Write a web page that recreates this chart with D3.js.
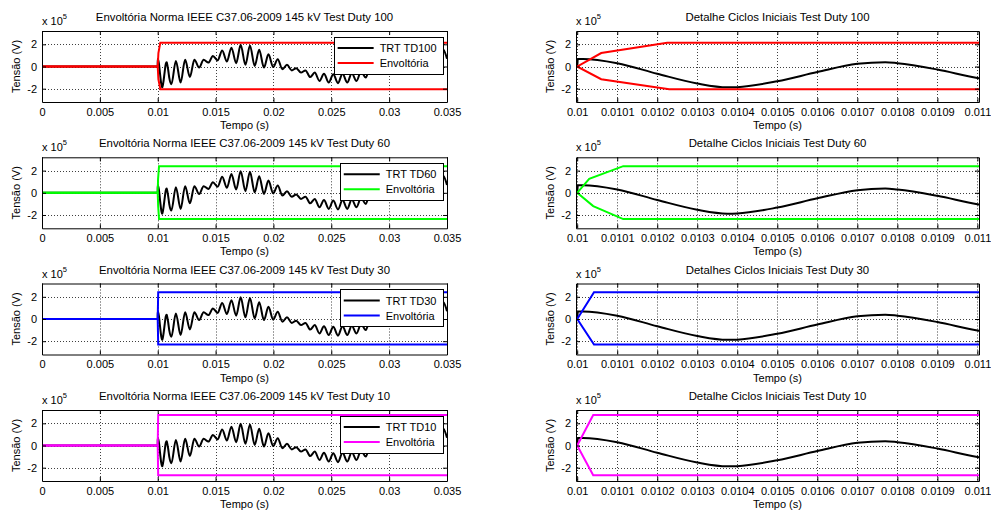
<!DOCTYPE html>
<html>
<head>
<meta charset="utf-8">
<script src="https://cdn.jsdelivr.net/npm/d3@7"></script>
<style>
  body { margin: 0; background: #fff; }
  svg { font-family: "Liberation Sans", Arial, Helvetica, sans-serif; }
</style>
</head>
<body>
<div id="figure"></div>
<script>
// TRT (tempo em s, tensao em unidades de 1e5 V)
var trtTime = [0, 0.01, 0.0100015, 0.010014, 0.0101, 0.0102, 0.0103, 0.010375, 0.0104, 0.0105,
  0.0106, 0.0107, 0.01077, 0.0108, 0.0109, 0.011, 0.01118, 0.01157, 0.01198, 0.01237,
  0.01278, 0.01317, 0.01358, 0.01397, 0.01438, 0.01477, 0.01518, 0.01557, 0.01598, 0.01637,
  0.01678, 0.01717, 0.01758, 0.01797, 0.01838, 0.01877, 0.01918, 0.01957, 0.01998, 0.02037,
  0.02078, 0.02117, 0.02158, 0.02197, 0.02238, 0.02277, 0.02318, 0.02357, 0.02398, 0.02437,
  0.02478, 0.02517, 0.02558, 0.02597, 0.02638, 0.02677, 0.02718, 0.02757, 0.02798, 0.02837,
  0.02878, 0.02917, 0.02958, 0.02997, 0.03038, 0.03077, 0.03118, 0.03157, 0.03198, 0.03237,
  0.03278, 0.03317, 0.03358, 0.03397, 0.03425, 0.03465, 0.035];
var trtValue = [0, 0, 0.68, 0.68, 0.3, -0.65, -1.53, -1.88, -1.86, -1.33,
  -0.5, 0.24, 0.39, 0.3, -0.27, -1.03, -1.6, 0.5, -1.45, 0.6,
  -0.95, 0.6, -0.1, 0.6, 0.35, 0.95, 0.55, 1.45, 0.45, 1.7,
  0.3, 1.95, 0.15, 1.9, 0.05, 1.5, -0.1, 1.1, -0.05, 0.65,
  -0.25, 0.15, -0.35, -0.15, -0.55, -0.35, -0.95, -0.55, -1.3, -0.65,
  -1.45, -0.7, -1.5, -0.65, -1.45, -0.6, -1.3, -0.45, -1.0, 0.0,
  -0.55, 0.35, -0.2, 0.55, 0.05, 0.8, 0.2, 1.1, 0.3, 1.35,
  0.3, 1.6, 0.35, 1.7, 0.4, 1.55, 0.7];

// envoltorias IEEE C37.06-2009, uma linha por test duty
var dutyNames = ["TD100", "TD60", "TD30", "TD10"];
var dutyNumbers = ["100", "60", "30", "10"];
var envColors = ["#ff0000", "#00ff00", "#0000ff", "#ff00ff"];
var envUpperTime = [
  [0, 0.01, 0.01006, 0.010225, 0.035],
  [0, 0.01, 0.01003, 0.010115, 0.035],
  [0, 0.01, 0.010042, 0.035],
  [0, 0.01, 0.01004, 0.035]
];
var envUpper = [
  [0, 0, 1.21, 2.15, 2.15],
  [0, 0, 1.25, 2.4, 2.4],
  [0, 0, 2.42, 2.42],
  [0, 0, 2.75, 2.75]
];
var envLowerTime = [
  [0, 0.01, 0.01006, 0.01023, 0.035],
  [0, 0.01, 0.01004, 0.010115, 0.035],
  [0, 0.01, 0.010042, 0.035],
  [0, 0.01, 0.01004, 0.035]
];
var envLower = [
  [0, 0, -1.15, -2.05, -2.05],
  [0, 0, -1.2, -2.37, -2.37],
  [0, 0, -2.3, -2.3],
  [0, 0, -2.68, -2.68]
];

var leftTitles = dutyNumbers.map(n => "Envoltória Norma IEEE C37.06-2009 145 kV Test Duty " + n);
var rightTitles = ["Detalhe Ciclos Iniciais Test Duty 100", "Detalhe Ciclos Iniciais Test Duty 60",
  "Detalhes Ciclos Iniciais Test Duty 30", "Detalhe Ciclos Iniciais Test Duty 10"];

var leftTicks = [0, 0.005, 0.01, 0.015, 0.02, 0.025, 0.03, 0.035];
var rightTicks = [0.01, 0.0101, 0.0102, 0.0103, 0.0104, 0.0105, 0.0106, 0.0107, 0.0108, 0.0109, 0.011];
var yTicks = [-2, 0, 2];

var W = 991, H = 513;
var rowTops = [31, 157.3, 283.5, 410];
var axH = 71;

var svg = d3.select("#figure").append("svg")
  .attr("width", W)
  .attr("height", H);

svg.append("rect").attr("width", W).attr("height", H).attr("fill", "#fff");

var trtData = trtTime.map((t, i) => [t, trtValue[i]]);

function drawPanel(id, left, width, top, xDomain, xTicks, xDigits, title, row, withLegend) {
  var x = d3.scaleLinear().domain(xDomain).range([left, left + width]);
  var y = d3.scaleLinear().domain([-3.2, 3.2]).range([top + axH, top]);

  var g = svg.append("g");

  g.append("clipPath").attr("id", id)
    .append("rect")
    .attr("x", left).attr("y", top)
    .attr("width", width).attr("height", axH);

  // grid pontilhado
  g.append("g").selectAll("line")
    .data(xTicks)
    .join("line")
    .attr("x1", d => Math.round(x(d)) + 0.5).attr("x2", d => Math.round(x(d)) + 0.5)
    .attr("y1", top).attr("y2", top + axH)
    .attr("stroke", "#000").attr("stroke-width", 1)
    .attr("stroke-dasharray", "1,2").attr("opacity", 0.75);
  g.append("g").selectAll("line")
    .data(yTicks)
    .join("line")
    .attr("x1", left).attr("x2", left + width)
    .attr("y1", d => Math.round(y(d)) + 0.5).attr("y2", d => Math.round(y(d)) + 0.5)
    .attr("stroke", "#000").attr("stroke-width", 1)
    .attr("stroke-dasharray", "1,2").attr("opacity", 0.75);

  var plot = g.append("g").attr("clip-path", "url(#" + id + ")");

  var line = d3.line()
    .x(d => x(d[0]))
    .y(d => y(d[1]));

  plot.append("path")
    .datum(trtData)
    .attr("d", line.curve(d3.curveMonotoneX))
    .attr("fill", "none")
    .attr("stroke", "#000")
    .attr("stroke-width", 2)
    .attr("stroke-linejoin", "round");

  var envLine = d3.line().x(d => x(d[0])).y(d => y(d[1]));
  var up = envUpperTime[row].map((t, i) => [t, envUpper[row][i]]);
  var lo = envLowerTime[row].map((t, i) => [t, envLower[row][i]]);
  [up, lo].forEach(function (data) {
    plot.append("path")
      .datum(data)
      .attr("d", envLine)
      .attr("fill", "none")
      .attr("stroke", envColors[row])
      .attr("stroke-width", 2);
  });

  // eixos com ticks para dentro
  var fmt = d => String(+d.toFixed(xDigits));
  g.append("g")
    .attr("transform", "translate(0," + (top + axH) + ")")
    .call(d3.axisBottom(x).tickValues(xTicks).tickSize(-4).tickSizeOuter(0).tickPadding(6).tickFormat(fmt));
  g.append("g")
    .attr("transform", "translate(0," + top + ")")
    .call(d3.axisTop(x).tickValues(xTicks).tickSize(-4).tickSizeOuter(0).tickFormat(""));
  g.append("g")
    .attr("transform", "translate(" + left + ",0)")
    .call(d3.axisLeft(y).tickValues(yTicks).tickSize(-4).tickSizeOuter(0).tickPadding(5).tickFormat(d => String(d)));
  g.append("g")
    .attr("transform", "translate(" + (left + width) + ",0)")
    .call(d3.axisRight(y).tickValues(yTicks).tickSize(-4).tickSizeOuter(0).tickFormat(""));

  g.selectAll(".tick text").attr("font-size", 11).attr("font-family", null).attr("fill", "#000");
  g.selectAll(".domain, .tick line").attr("stroke", "#000");

  // titulo, rotulos
  g.append("text")
    .attr("x", left + width / 2).attr("y", top - 10)
    .attr("text-anchor", "middle").attr("font-size", 11.4)
    .text(title);

  g.append("text")
    .attr("x", left + width / 2).attr("y", top + axH + 27)
    .attr("text-anchor", "middle").attr("font-size", 11)
    .text("Tempo (s)");

  g.append("text")
    .attr("transform", "translate(" + (left - 22) + "," + (top + axH / 2) + ") rotate(-90)")
    .attr("text-anchor", "middle").attr("font-size", 11)
    .text("Tensão (V)");

  var mult = g.append("text")
    .attr("x", left).attr("y", top - 6)
    .attr("font-size", 11)
    .text("x 10");
  mult.append("tspan").attr("dy", -6).attr("font-size", 7.5).text("5");

  if (withLegend) {
    var lg = g.append("g");
    var box = lg.append("rect");
    var labels = ["TRT " + dutyNames[row], "Envoltória"];
    var colors = ["#000", envColors[row]];
    var texts = labels.map(function (lab) {
      return lg.append("text").attr("font-size", 11).text(lab);
    });
    var tw = d3.max(texts, t => t.node().getComputedTextLength());
    var bw = 4 + 36 + 6 + tw + 6.5;
    var bx = left + width - 4 - bw;
    var by = top + 5.5;
    box.attr("x", Math.round(bx) + 0.5).attr("y", Math.round(by) + 0.5)
      .attr("width", Math.round(bw)).attr("height", 37)
      .attr("fill", "#fff").attr("stroke", "#000");
    labels.forEach(function (lab, i) {
      var ly = by + 11.5 + i * 15;
      lg.append("line")
        .attr("x1", bx + 4).attr("x2", bx + 40)
        .attr("y1", ly).attr("y2", ly)
        .attr("stroke", colors[i]).attr("stroke-width", 2);
      texts[i].attr("x", bx + 46).attr("y", ly + 4);
    });
  }
}

dutyNames.forEach(function (d, i) {
  drawPanel("clipL" + i, 42, 405, rowTops[i], [0, 0.035], leftTicks, 4, leftTitles[i], i, true);
  drawPanel("clipR" + i, 576, 403, rowTops[i], [0.009997, 0.011004], rightTicks, 5, rightTitles[i], i, false);
});
</script>
</body>
</html>
